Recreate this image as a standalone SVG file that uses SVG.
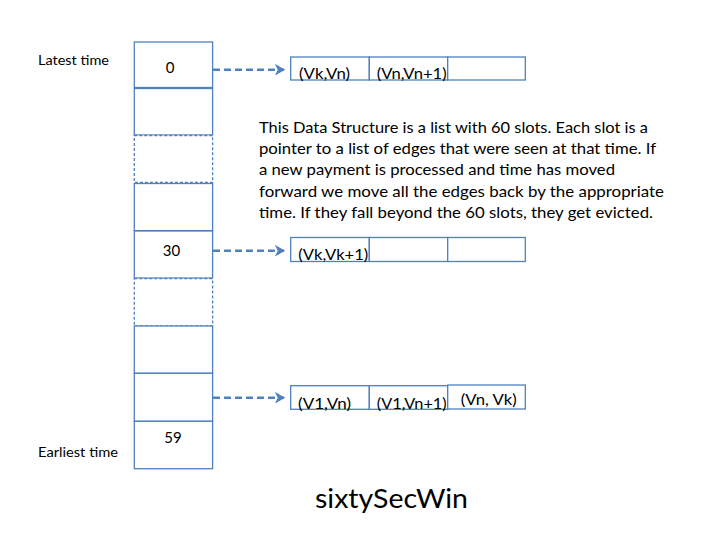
<svg xmlns="http://www.w3.org/2000/svg" width="720" height="540" viewBox="0 0 720 540">
<defs>
<style>
.slot{fill:#ffffff;stroke:#4f81bd;stroke-width:1.3}
.dslot{fill:#ffffff;stroke:#4f81bd;stroke-width:1.3;stroke-dasharray:3 2}
.cell{fill:#ffffff;stroke:#4f81bd;stroke-width:1.3}
.t{font-family:Lato,"Open Sans","Liberation Sans",sans-serif;fill:#000000}
.num{font-size:15px;text-anchor:middle}
.lbl{font-size:12.5px}
.edge{font-size:14.5px}
.para{font-size:16px}
.title{font-size:26.5px}
.conn{fill:none;stroke:#4f81bd;stroke-width:2.5;stroke-dasharray:7 4}
</style>
<marker id="arr" viewBox="0 0 10 10" refX="8" refY="5" markerWidth="4.5" markerHeight="4.5" orient="auto" markerUnits="strokeWidth">
<path d="M1,1 L8,5 L1,9 L3,5 Z" fill="#4f81bd" stroke="#4f81bd" stroke-width="1"/>
</marker>
</defs>
<rect width="720" height="540" fill="#ffffff"/>

<g id="labels">
<text class="t lbl" x="38" y="65" textLength="71" lengthAdjust="spacingAndGlyphs">Latest time</text>
<text class="t lbl" x="38" y="456.5" textLength="80" lengthAdjust="spacingAndGlyphs">Earliest time</text>
</g>

<g id="slots">
<g id="slot0"><rect class="slot" x="134.3" y="42" width="78.3" height="45.5"/><text class="t num" x="170" y="73">0</text></g>
<g id="slot1"><rect class="slot" x="134.3" y="88.5" width="78.3" height="46.5"/></g>
<g id="slot2"><rect class="dslot" x="134.3" y="135.5" width="78.3" height="47"/></g>
<g id="slot3"><rect class="slot" x="134.3" y="183.5" width="78.3" height="47.2"/></g>
<g id="slot30"><rect class="slot" x="134.3" y="231" width="78.3" height="47"/><text class="t num" x="171.5" y="255.5">30</text></g>
<g id="slot5"><rect class="dslot" x="134.3" y="278.7" width="78.3" height="47.2"/></g>
<g id="slot6"><rect class="slot" x="134.3" y="326" width="78.3" height="47.3"/></g>
<g id="slot7"><rect class="slot" x="134.3" y="373.3" width="78.3" height="48"/></g>
<g id="slot59"><rect class="slot" x="134.3" y="421.3" width="78.3" height="47.4"/><text class="t num" x="173" y="443">59</text></g>
</g>

<g id="list0">
<rect class="cell" x="290.7" y="57" width="78.6" height="23"/>
<rect class="cell" x="369.3" y="57" width="78.4" height="23"/>
<rect class="cell" x="447.7" y="57" width="77.6" height="23"/>
<text class="t edge" x="299" y="78.5" textLength="51" lengthAdjust="spacingAndGlyphs">(Vk,Vn)</text>
<text class="t edge" x="376.7" y="78.5" textLength="70" lengthAdjust="spacingAndGlyphs">(Vn,Vn+1)</text>
</g>

<g id="list30">
<rect class="cell" x="290.7" y="237.5" width="78.6" height="24"/>
<rect class="cell" x="369.3" y="237.5" width="78.4" height="24"/>
<rect class="cell" x="447.7" y="237.5" width="77.6" height="24"/>
<text class="t edge" x="298.3" y="259.5" textLength="70" lengthAdjust="spacingAndGlyphs">(Vk,Vk+1)</text>
</g>

<g id="list59">
<rect class="cell" x="290.7" y="385.7" width="78.6" height="23.6"/>
<rect class="cell" x="369.3" y="385.7" width="78.4" height="23.6"/>
<rect class="cell" x="447.7" y="385" width="77.6" height="24"/>
<text class="t edge" x="298" y="408.5" textLength="53" lengthAdjust="spacingAndGlyphs">(V1,Vn)</text>
<text class="t edge" x="376.7" y="408.5" textLength="70" lengthAdjust="spacingAndGlyphs">(V1,Vn+1)</text>
<text class="t edge" x="460.7" y="405" textLength="56" lengthAdjust="spacingAndGlyphs">(Vn, Vk)</text>
</g>

<g id="connectors">
<line class="conn" x1="213" y1="69.7" x2="284" y2="69.7" marker-end="url(#arr)"/>
<line class="conn" x1="213" y1="250.7" x2="284" y2="250.7" marker-end="url(#arr)"/>
<line class="conn" x1="213" y1="397.7" x2="284" y2="397.7" marker-end="url(#arr)"/>
</g>

<g id="description">
<text class="t para" x="259" y="132.7" textLength="389" lengthAdjust="spacingAndGlyphs">This Data Structure is a list with 60 slots. Each slot is a</text>
<text class="t para" x="259" y="154" textLength="397" lengthAdjust="spacingAndGlyphs">pointer to a list of edges that were seen at that time. If</text>
<text class="t para" x="259" y="175.3" textLength="356" lengthAdjust="spacingAndGlyphs">a new payment is processed and time has moved</text>
<text class="t para" x="259" y="196.6" textLength="405" lengthAdjust="spacingAndGlyphs">forward we move all the edges back by the appropriate</text>
<text class="t para" x="259" y="218" textLength="394" lengthAdjust="spacingAndGlyphs">time. If they fall beyond the 60 slots, they get evicted.</text>
</g>

<g id="title">
<text class="t title" x="315" y="507.5" textLength="153" lengthAdjust="spacingAndGlyphs">sixtySecWin</text>
</g>
</svg>
